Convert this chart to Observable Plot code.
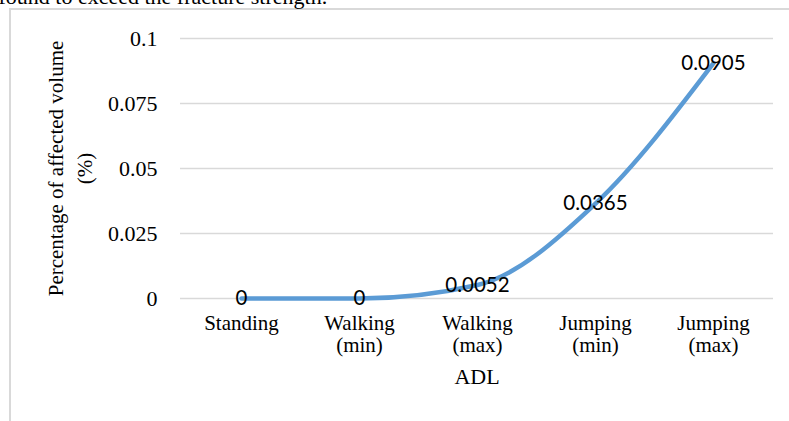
<!DOCTYPE html>
<html>
<head>
<meta charset="utf-8">
<script src="https://cdn.jsdelivr.net/npm/d3@7"></script>
<script src="https://cdn.jsdelivr.net/npm/@observablehq/plot@0.6"></script>
<style>
  html, body { margin: 0; padding: 0; background: #fff; overflow: hidden; }
  #wrap { position: relative; width: 789px; height: 421px; overflow: hidden; }
  #border { position: absolute; left: 9px; top: 8px; width: 900px; height: 600px; border: 2px solid #d9d9d9; box-sizing: border-box; }
  #chart { position: absolute; left: 0; top: 0; }
</style>
</head>
<body>
<div id="wrap"><div id="border"></div><div id="chart"></div></div>
<script>
const categories = ["Standing", "Walking (min)", "Walking (max)", "Jumping (min)", "Jumping (max)"];
const categoryLabels = ["Standing", "Walking\n(min)", "Walking\n(max)", "Jumping\n(min)", "Jumping\n(max)"];
const values = [0, 0, 0.0052, 0.0365, 0.0905];
const valueLabels = ["0", "0", "0.0052", "0.0365", "0.0905"];
const yTicks = [0, 0.025, 0.05, 0.075, 0.1];
const yTickLabels = ["0", "0.025", "0.05", "0.075", "0.1"];
const xTitle = "ADL";
const yTitle = "Percentage of affected volume\n(%)";
const topText = "found to exceed the fracture strength.";

const data = categories.map((c, i) => ({cat: c, v: values[i], label: valueLabels[i]}));
const serif = "'Liberation Serif', 'Times New Roman', serif";

const chart = Plot.plot({
  width: 789,
  height: 421,
  marginLeft: 180,
  marginRight: 16,
  marginTop: 38,
  marginBottom: 123,
  style: {background: "transparent", overflow: "visible"},
  x: {type: "point", domain: categories, padding: 0.5, axis: null},
  y: {domain: [0, 0.1], axis: null},
  marks: [
    Plot.ruleY(yTicks, {stroke: "#d9d9d9", strokeWidth: 1.5}),
    Plot.text(yTicks, {y: d => d, frameAnchor: "left", dx: -23, textAnchor: "end",
      text: (d, i) => yTickLabels[i], fontFamily: serif, fontSize: 22, fill: "#000"}),
    Plot.text(categories, {x: d => d, frameAnchor: "bottom", dy: 16, lineAnchor: "top",
      lineHeight: 1.05, text: (d, i) => categoryLabels[i], fontFamily: serif, fontSize: 21, fill: "#000"}),
    Plot.text([xTitle], {frameAnchor: "bottom", dy: 85, text: d => d, fontFamily: serif, fontSize: 22, fill: "#000"}),
    Plot.text([yTitle], {frameAnchor: "left", dx: -112, rotate: -90, textAnchor: "middle", lineAnchor: "middle",
      lineHeight: 1.35, text: d => d, fontFamily: serif, fontSize: 21, fill: "#000"}),
    Plot.text([topText], {frameAnchor: "top-left", dx: -182, dy: -35, lineAnchor: "bottom",
      textAnchor: "start", text: d => d, fontFamily: serif, fontSize: 22, fill: "#000"}),
    Plot.line(data, {x: "cat", y: "v", stroke: "#5b9bd5", strokeWidth: 4.5, curve: "monotone-x", strokeLinecap: "round", strokeLinejoin: "round"}),
    Plot.text(data, {x: "cat", y: "v", text: "label", fontFamily: "Lato, 'Open Sans', sans-serif", fontSize: 20.5, fill: "#000"})
  ]
});
document.getElementById("chart").appendChild(chart);
</script>
</body>
</html>
